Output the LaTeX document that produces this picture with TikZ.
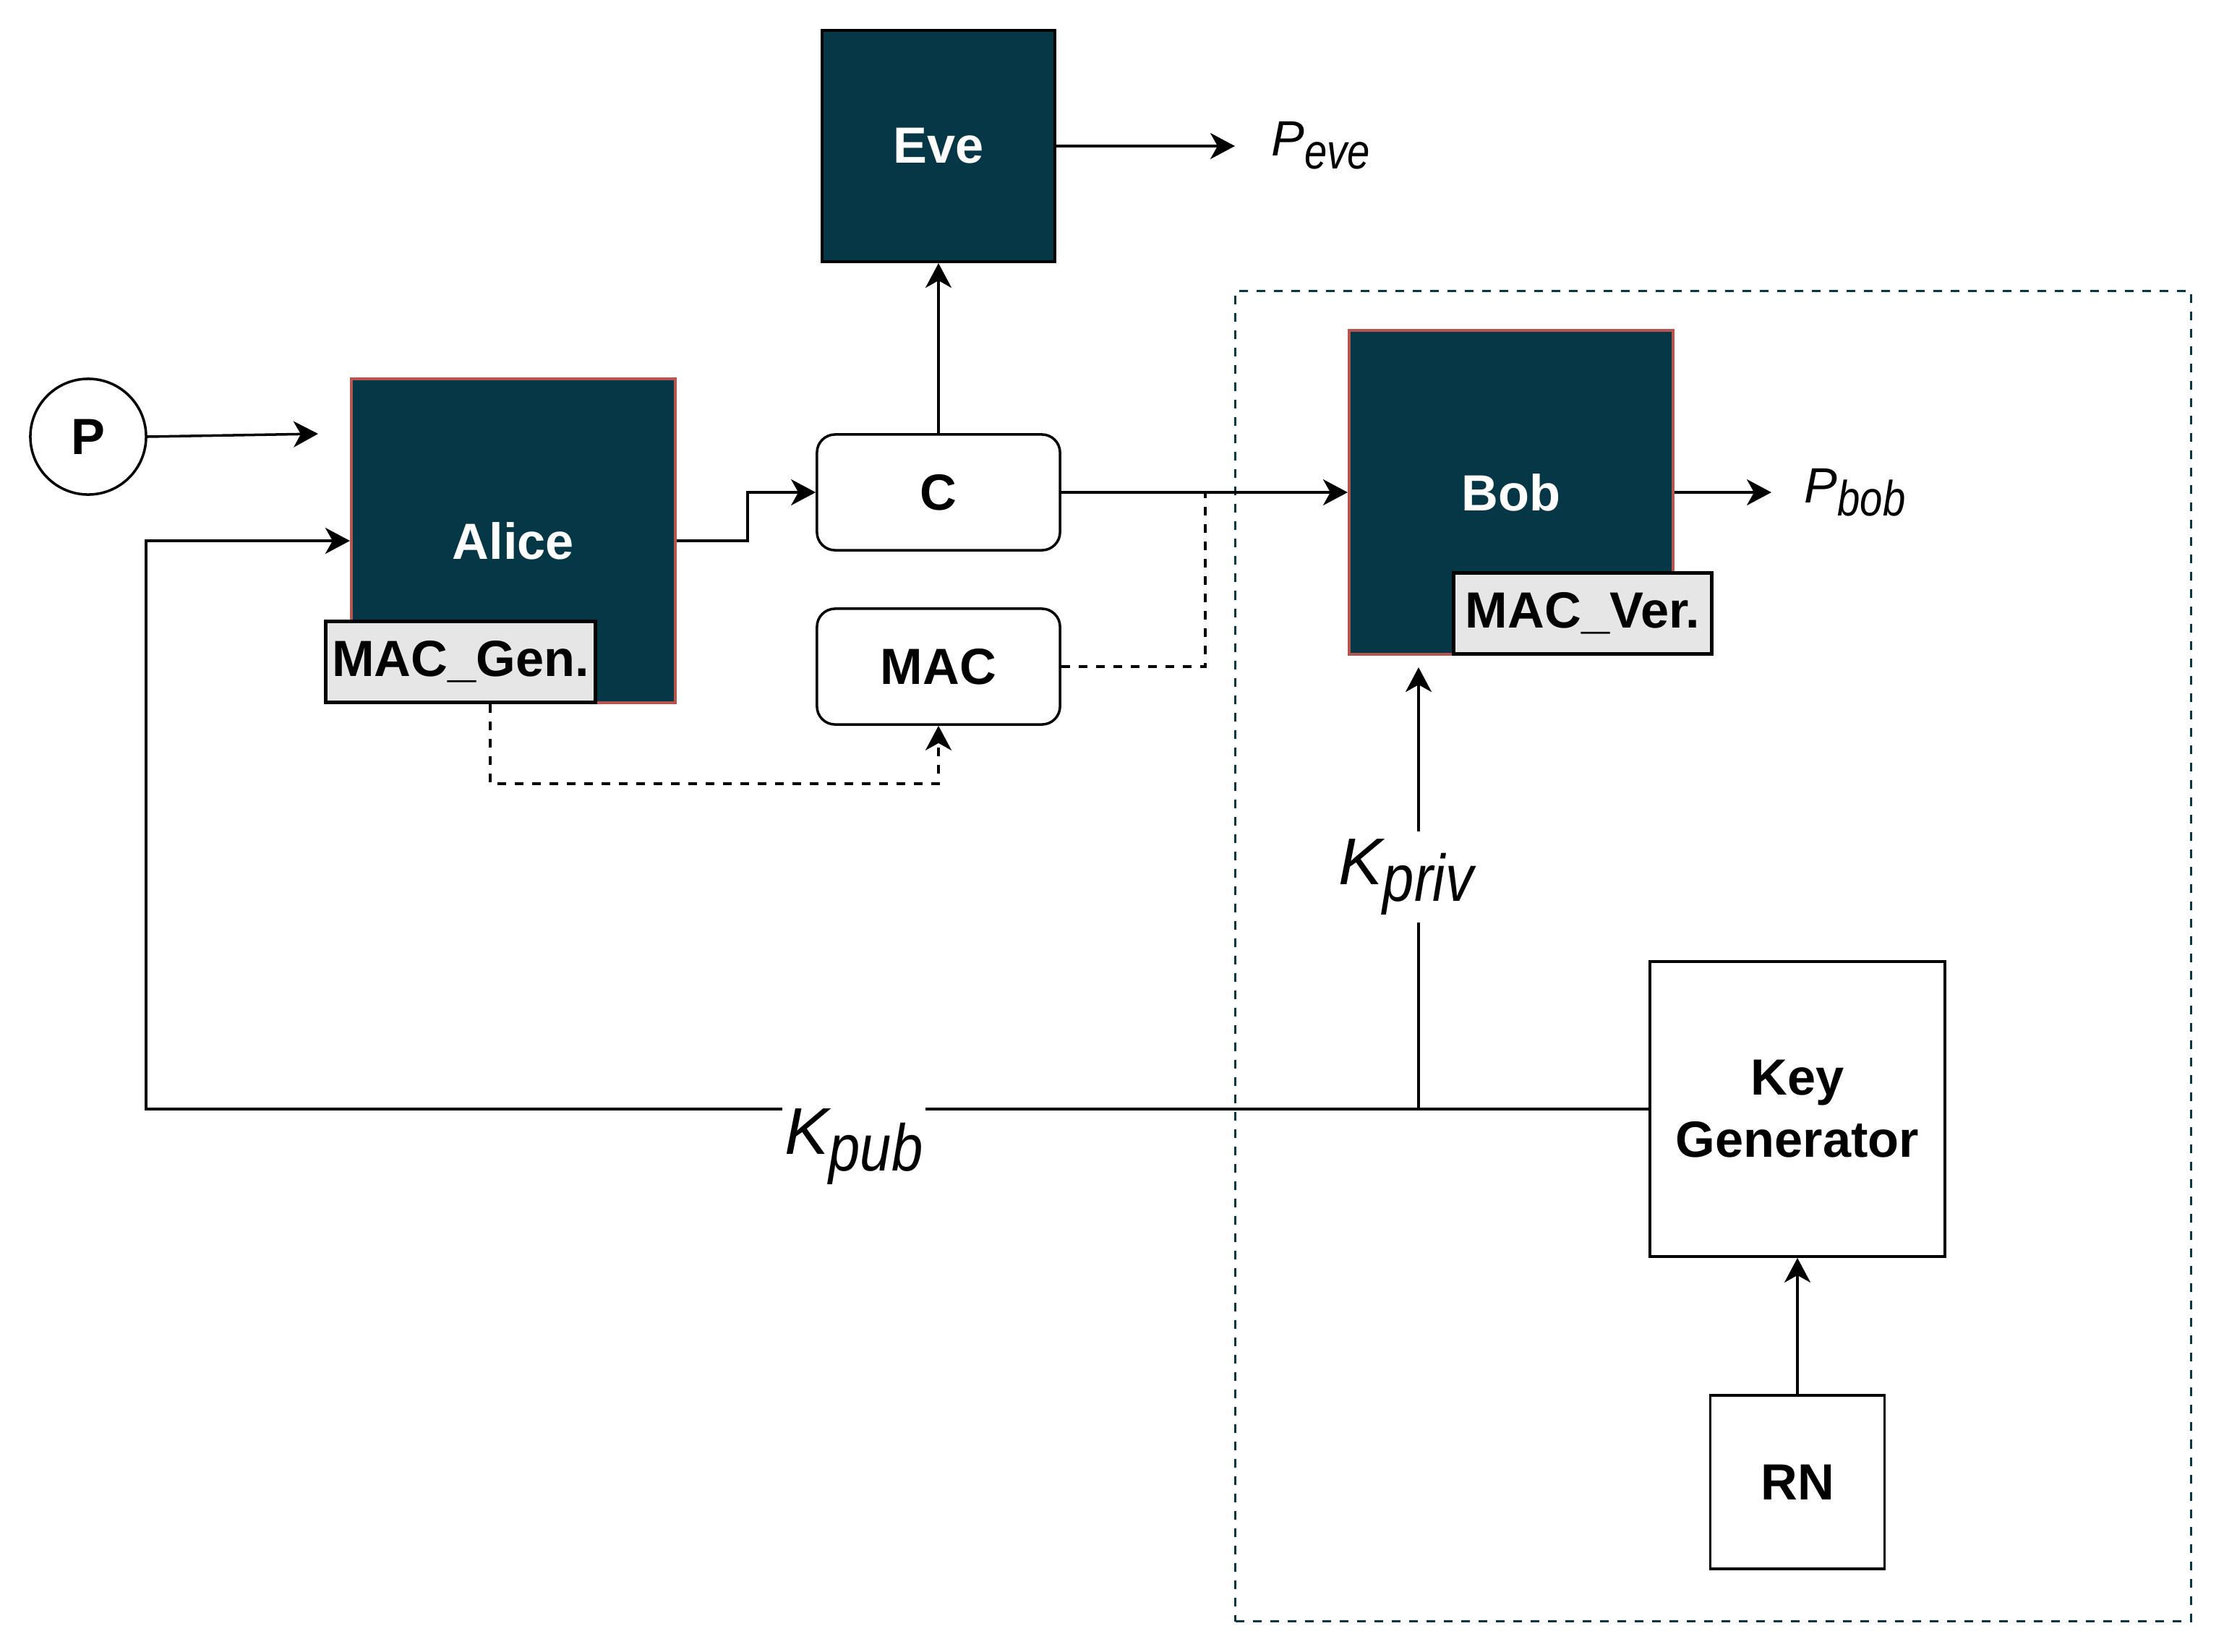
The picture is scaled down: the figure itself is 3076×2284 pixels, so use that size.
\documentclass[tikz,border=0pt]{standalone}
\usepackage{fontspec}
\setmainfont{Liberation Sans}
\usetikzlibrary{positioning,arrows.meta}
\definecolor{protoTeal}{RGB}{5,55,71}
\definecolor{protoRed}{RGB}{184,84,80}
\definecolor{protoGray}{RGB}{230,230,230}
\newcommand{\sublbl}[3]{\textit{#1\raisebox{-0.26em}{\scalebox{#3}[1]{#2}}}}

\begin{document}
\begin{tikzpicture}[x=0.01cm, y=-0.01cm, line width=1pt,
    >={Stealth[length=0.34cm, width=0.36cm, inset=0.1cm]},
    boldfont/.style={font=\bfseries\fontsize{20}{24.5}\selectfont},
    party/.style={boldfont, draw=protoRed, line width=1.1pt, fill=protoTeal, text=white, minimum width=4.48cm, minimum height=4.48cm},
    msgbox/.style={boldfont, draw, fill=white, rounded corners=0.25cm, minimum width=3.36cm, minimum height=1.6cm},
    tagbox/.style={boldfont, draw, line width=1.4pt, fill=protoGray, inner sep=0pt, minimum height=1.12cm},
    plainbox/.style={boldfont, draw, align=center, minimum width=4.08cm, minimum height=4.08cm},
    mathlbl/.style={inner sep=0pt, font=\fontsize{19.5}{24}\selectfont},
    keylbl/.style={fill=white, inner xsep=0.04cm, inner ysep=0.1cm, font=\fontsize{26}{31}\selectfont},
    dashline/.style={dash pattern=on 0.12cm off 0.12cm}]
  \useasboundingbox (0,0) rectangle (3076,2284);

  % receiver side
  \node[draw=protoTeal, dashline, minimum width=13.21cm, minimum height=18.39cm] (bobzone) at (2369.5,1322.5) {};

  \node[draw, circle, boldfont, minimum size=1.6cm] (p) at (122,604) {P};
  \node[party] (alice) at (710,748) {Alice};
  \node[tagbox, minimum width=3.73cm, anchor=south west] (macgen) at ([xshift=-0.36cm]alice.south west) {MAC\_Gen.};
  \node[msgbox] (c) at (1298,681) {C};
  \node[msgbox] (mac) at (1298,922) {MAC};
  \node[party, draw=black, minimum width=3.22cm, minimum height=3.2cm] (eve) at (1298,202) {Eve};
  \node[party] (bob) at (2090,681) {Bob};
  \node[tagbox, minimum width=3.57cm, anchor=south west] (macver) at ([xshift=1.44cm]bob.south west) {MAC\_Ver.};
  \node[plainbox] (kg) at (2486,1534) {Key\\Generator};
  \node[plainbox, minimum width=2.41cm, minimum height=2.4cm] (rn) at (2486,2050) {RN};

  \coordinate (pin) at (440,600);
  \coordinate (kj) at (1962,1534);
  \coordinate (kleft) at (202,1534);
  \coordinate (cjoin) at (1667,681);
  \coordinate (eveout) at (1708,202);
  \coordinate (bobout) at (2450,681);

  \draw[->] (p.east) -- (pin);
  \draw[->] (kg.west) -- (kleft) |- (alice.west);
  \draw[->] (kj) -- ([yshift=-0.16cm]bob.south -| kj);
  \draw[->] (alice.east) -- ++(98,0) |- (c.west);
  \draw[->] (c.north) -- (eve.south);
  \draw[->] (eve.east) -- (eveout);
  \draw[->] (c.east) -- (bob.west);
  \draw[->] (bob.east) -- (bobout);
  \draw[->] (rn.north) -- (kg.south);
  \draw[dashline] (mac.east) -| (cjoin);
  \draw[dashline, ->] ([xshift=0.41cm]macgen.south) -- ++(0,110) -| (mac.south);

  % labels
  \node[mathlbl, anchor=west] (peve) at (1757,201) {\sublbl{P}{eve}{0.82}};
  \node[mathlbl, anchor=west] (pbob) at (2494,681) {\sublbl{P}{bob}{0.82}};
  \node[keylbl] (kpriv) at (1945,1213) {\sublbl{K}{priv}{0.85}};
  \node[keylbl] (kpub) at (1181,1586) {\sublbl{K}{pub}{0.85}};
\end{tikzpicture}
\end{document}
